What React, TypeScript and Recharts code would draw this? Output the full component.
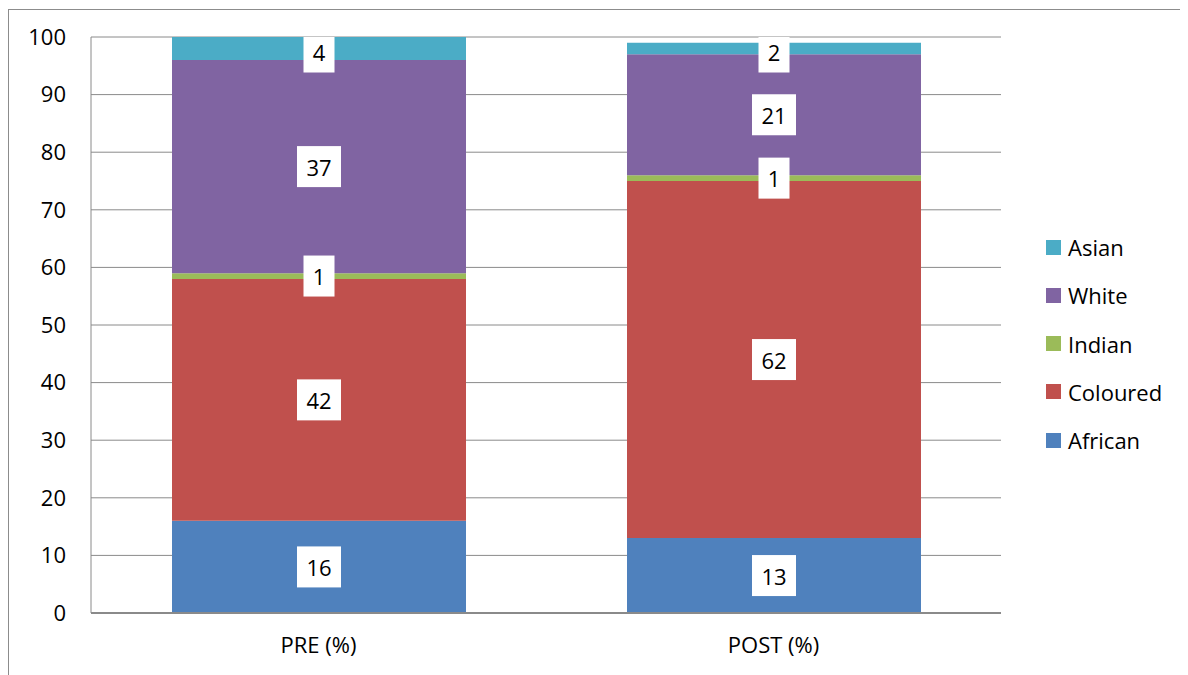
import React from "react";
import { BarChart, Bar, XAxis, YAxis, CartesianGrid, Legend, LabelList } from "recharts";

const categories = ["PRE (%)", "POST (%)"];
const african = [16, 13];
const coloured = [42, 62];
const indian = [1, 1];
const white = [37, 21];
const asian = [4, 2];
const yTicks = [0, 10, 20, 30, 40, 50, 60, 70, 80, 90, 100];

const seriesDefs = [
  { key: "African", values: african, color: "#4F81BD" },
  { key: "Coloured", values: coloured, color: "#C0504D" },
  { key: "Indian", values: indian, color: "#9BBB59" },
  { key: "White", values: white, color: "#8064A2" },
  { key: "Asian", values: asian, color: "#4BACC6" },
];

const data = categories.map((c, i) => {
  const row: any = { name: c };
  seriesDefs.forEach((s) => (row[s.key] = s.values[i]));
  return row;
});

const FONT = "'Open Sans', sans-serif";
const MARGIN = { top: 27, right: 187, bottom: 22, left: 22 };

const BoxLabel = (props: any) => {
  const { x, y, width, height, value } = props;
  const cx = Number(x) + Number(width) / 2;
  let cy = Number(y) + Number(height) / 2;
  const text = String(value);
  const w = text.length * 13 + 18;
  const h = 41;
  if (cy < MARGIN.top + 15) cy = MARGIN.top + 15;
  const top = Math.max(cy - h / 2, MARGIN.top);
  const bottom = cy + h / 2;
  return (
    <g>
      <rect x={cx - w / 2} y={top} width={w} height={bottom - top} fill="#ffffff" />
      <text x={cx} y={cy} textAnchor="middle" dominantBaseline="central" fontFamily={FONT} fontSize={22} fill="#000">
        {text}
      </text>
    </g>
  );
};

const LegendContent = (props: any) => {
  const payload = props.payload || [];
  const items = [...seriesDefs]
    .reverse()
    .map((s) => {
      const p = payload.find((q: any) => q.value === s.key || q.dataKey === s.key);
      return { value: s.key, color: p ? p.color : s.color };
    });
  return (
    <div style={{ fontFamily: FONT, fontSize: 22, color: "#000" }}>
      {items.map((it: any) => (
        <div key={it.value} style={{ height: 48.25, display: "flex", alignItems: "center" }}>
          <span style={{ display: "inline-block", width: 15, height: 15, background: it.color, marginRight: 7 }} />
          <span>{it.value}</span>
        </div>
      ))}
    </div>
  );
};

export default function App() {
  return (
    <div
      style={{
        position: "relative",
        width: 1180,
        height: 667,
        marginTop: 1,
        borderTop: "1px solid #8c8c8c",
        borderLeft: "1px solid #8c8c8c",
        overflow: "hidden",
      }}
    >
      <BarChart width={1179} height={665} data={data} margin={MARGIN}>
        <CartesianGrid vertical={false} stroke="#8a8a8a" strokeWidth={1} />
        <XAxis
          dataKey="name"
          height={40}
          axisLine={{ stroke: "#8a8a8a", strokeWidth: 2 }}
          tickLine={false}
          tickSize={0}
          tickMargin={24}
          tick={{ fontFamily: FONT, fontSize: 22, fill: "#000" }}
        />
        <YAxis
          width={60}
          domain={[0, 100]}
          ticks={yTicks}
          interval={0}
          axisLine={{ stroke: "#8a8a8a", strokeWidth: 1 }}
          tickLine={false}
          tickSize={0}
          tickMargin={25}
          tick={{ fontFamily: FONT, fontSize: 22, fill: "#000" }}
        />
        <Legend
          layout="horizontal"
          verticalAlign="middle"
          align="center"
          content={<LegendContent />}
          wrapperStyle={{ left: 1037, top: 213, width: 140, right: "auto", bottom: "auto" }}
        />
        {seriesDefs.map((s) => (
          <Bar key={s.key} dataKey={s.key} stackId="a" fill={s.color} barSize={294} isAnimationActive={false}>
            <LabelList dataKey={s.key} content={<BoxLabel />} />
          </Bar>
        ))}
      </BarChart>
    </div>
  );
}
